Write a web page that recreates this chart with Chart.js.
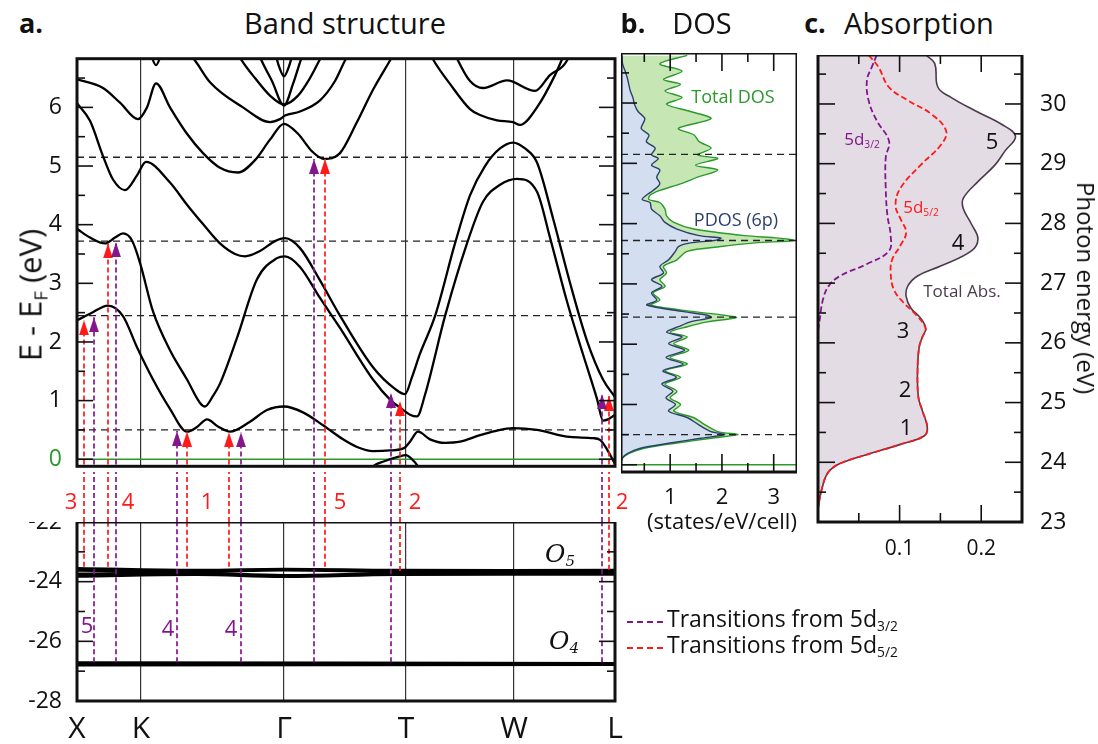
<!DOCTYPE html>
<html>
<head>
<meta charset="utf-8">
<script src="https://cdn.jsdelivr.net/npm/chart.js"></script>
<style>
body { margin: 0; background: #fff; width: 1098px; height: 744px; position: relative; overflow: hidden; font-family: 'Open Sans', sans-serif; color: #111; }
canvas { position: absolute; }
.t { position: absolute; transform: translate(-50%, -50%); white-space: nowrap; line-height: 1; }
.l { position: absolute; white-space: nowrap; line-height: 1; font-size: 23px; }
sub { font-size: 0.6em; vertical-align: -0.3em; line-height: 0; }
.o { font-family: 'DejaVu Serif', serif; font-style: italic; font-size: 25px; }
</style>
</head>
<body>
<canvas id="bandTop" width="630" height="419" style="left:0;top:53px"></canvas>
<canvas id="bandGap" width="630" height="50" style="left:0;top:472px"></canvas>
<canvas id="bandLow" width="630" height="221" style="left:0;top:522px"></canvas>
<canvas id="dos" width="176" height="451" style="left:621px;top:53px"></canvas>
<canvas id="abs" width="270" height="502" style="left:810px;top:55px"></canvas>

<div class="t" style="left:31px;top:22px;font-size:27px;font-weight:bold">a.</div>
<div class="t" style="left:345px;top:22px;font-size:29px">Band structure</div>
<div class="t" style="left:633px;top:22px;font-size:27px;font-weight:bold">b.</div>
<div class="t" style="left:702px;top:22px;font-size:29px">DOS</div>
<div class="t" style="left:815px;top:22px;font-size:27px;font-weight:bold">c.</div>
<div class="t" style="left:919px;top:22px;font-size:29px">Absorption</div>

<div class="t" style="left:30px;top:295px;font-size:31px;transform:translate(-50%,-50%) rotate(-90deg)">E - E<sub>F</sub> (eV)</div>
<div class="t" style="left:1086px;top:288px;font-size:24px;transform:translate(-50%,-50%) rotate(90deg)">Photon energy (eV)</div>
<div class="t" style="left:722px;top:520px;font-size:22px">(states/eV/cell)</div>

<div class="t" style="left:71px;top:500px;font-size:22px;color:#ff1a1a">3</div>
<div class="t" style="left:128px;top:500px;font-size:22px;color:#ff1a1a">4</div>
<div class="t" style="left:207px;top:500px;font-size:22px;color:#ff1a1a">1</div>
<div class="t" style="left:340px;top:500px;font-size:22px;color:#ff1a1a">5</div>
<div class="t" style="left:415px;top:500px;font-size:22px;color:#ff1a1a">2</div>
<div class="t" style="left:622px;top:500px;font-size:22px;color:#ff1a1a">2</div>
<div class="t" style="left:87px;top:624px;font-size:22px;color:#84168c">5</div>
<div class="t" style="left:168px;top:627px;font-size:22px;color:#84168c">4</div>
<div class="t" style="left:231px;top:627px;font-size:22px;color:#84168c">4</div>
<div class="t o" style="left:560px;top:553px">O<sub>5</sub></div>
<div class="t o" style="left:564px;top:640px">O<sub>4</sub></div>

<div class="t" style="left:733px;top:96px;font-size:18px;color:#2a9a2a">Total DOS</div>
<div class="t" style="left:736px;top:219px;font-size:18px;color:#2b3f6b">PDOS (6p)</div>

<div class="t" style="left:862px;top:138px;font-size:17px;color:#84168c">5d<sub>3/2</sub></div>
<div class="t" style="left:921px;top:206px;font-size:17px;color:#ff1a1a">5d<sub>5/2</sub></div>
<div class="t" style="left:962px;top:290px;font-size:17px;color:#4b3a4d">Total Abs.</div>
<div class="t" style="left:992px;top:140px;font-size:22px">5</div>
<div class="t" style="left:958px;top:241px;font-size:22px">4</div>
<div class="t" style="left:903px;top:329px;font-size:22px">3</div>
<div class="t" style="left:905px;top:388px;font-size:22px">2</div>
<div class="t" style="left:906px;top:426px;font-size:22px">1</div>

<div style="position:absolute;left:627px;top:621px;width:36px;border-top:2px dashed #84168c"></div>
<div class="l" style="left:667px;top:607px">Transitions from 5d<sub>3/2</sub></div>
<div style="position:absolute;left:627px;top:647px;width:36px;border-top:2px dashed #ff1a1a"></div>
<div class="l" style="left:667px;top:633px">Transitions from 5d<sub>5/2</sub></div>

<script>
Chart.defaults.font.family = "'Open Sans', sans-serif";
Chart.defaults.color = '#111';

// k-path positions (X, K, Gamma, T, W, L)
const kPoints = [0, 0.64, 2.07, 3.29, 4.37, 5.38];
const kNames = ['X', 'K', 'Γ', 'T', 'W', 'L'];

// conduction bands, [k, E (eV)]
const band0 = [[0,2.37],[0.13,2.48],[0.31,2.62],[0.46,2.44],[0.60,1.91],[0.76,1.36],[0.93,0.86],[1.10,0.47],[1.20,0.55],[1.30,0.68],[1.41,0.56],[1.53,0.47],[1.73,0.64],[1.90,0.84],[2.07,0.90],[2.26,0.80],[2.46,0.58],[2.66,0.34],[2.80,0.21],[2.96,0.14],[3.13,0.15],[3.27,0.19],[3.33,0.30],[3.41,0.47],[3.53,0.34],[3.68,0.28],[3.83,0.30],[4.03,0.41],[4.18,0.48],[4.36,0.53],[4.60,0.50],[4.93,0.38],[5.16,0.36],[5.23,0.33],[5.30,0.17],[5.38,-0.08]];
const band1 = [[0,3.93],[0.13,3.78],[0.28,3.68],[0.38,3.78],[0.46,3.85],[0.55,3.73],[0.63,3.35],[0.76,2.52],[0.93,1.86],[1.10,1.36],[1.23,0.96],[1.28,0.90],[1.36,1.08],[1.43,1.29],[1.60,2.07],[1.80,3.07],[2.00,3.43],[2.08,3.46],[2.23,3.28],[2.43,2.75],[2.63,2.24],[2.96,1.36],[3.14,1.00],[3.23,0.88],[3.33,0.76],[3.40,0.73],[3.48,1.10],[3.68,2.44],[3.90,3.68],[4.06,4.39],[4.23,4.68],[4.40,4.78],[4.60,4.56],[4.73,3.78],[4.90,2.69],[5.06,1.79],[5.20,1.03],[5.26,0.66],[5.31,0.68],[5.38,0.76]];
const band2 = [[0,6.07],[0.13,5.77],[0.26,5.17],[0.36,4.77],[0.48,4.59],[0.60,4.84],[0.69,5.07],[0.93,4.72],[1.10,4.34],[1.26,4.01],[1.43,3.68],[1.58,3.50],[1.68,3.46],[1.83,3.55],[1.98,3.72],[2.08,3.77],[2.23,3.60],[2.43,3.05],[2.63,2.45],[2.96,1.57],[3.18,1.20],[3.28,1.11],[3.35,1.40],[3.43,1.80],[3.58,2.44],[3.78,3.68],[3.93,4.50],[4.08,5.00],[4.23,5.30],[4.36,5.40],[4.48,5.30],[4.60,5.06],[4.76,4.11],[4.93,3.01],[5.10,2.02],[5.26,1.36],[5.38,1.06]];
const band3 = [[0,6.48],[0.26,6.33],[0.43,6.08],[0.61,5.80],[0.70,6.00],[0.79,6.41],[0.93,6.00],[1.10,5.55],[1.26,5.22],[1.43,4.97],[1.61,4.89],[1.78,5.10],[1.93,5.45],[2.07,5.72],[2.21,5.55],[2.35,5.25],[2.47,5.12],[2.63,5.22],[2.80,5.75],[2.96,6.30],[3.13,6.80],[3.23,7.10]];
const band4 = [[1.08,7.0],[1.18,6.8],[1.33,6.43],[1.66,6.0],[1.93,5.75],[2.03,5.80],[2.08,5.86],[2.23,5.93],[2.43,6.12],[2.58,6.45],[2.68,6.8],[2.75,7.0]];
const band5 = [[1.58,7.0],[1.64,6.82],[1.78,6.5],[1.93,6.2],[2.07,6.05],[2.21,6.2],[2.33,6.5],[2.43,6.82],[2.49,7.0]];
const band6 = [[1.80,7.0],[1.84,6.82],[1.95,6.45],[2.07,6.03],[2.16,6.4],[2.24,6.82],[2.28,7.0]];
const band7 = [[1.97,7.0],[2.02,6.7],[2.07,6.53],[2.12,6.7],[2.17,7.0]];
const band8 = [[0.72,7.0],[0.79,6.72],[0.86,7.0]];
const band9 = [[3.51,7.0],[3.56,6.82],[3.73,6.4],[3.93,5.97],[4.03,5.87],[4.20,5.78],[4.36,5.75],[4.43,5.70],[4.60,6.0],[4.78,6.55],[4.85,6.82],[4.89,7.0]];
const band10 = [[3.76,7.0],[3.81,6.8],[3.93,6.45],[4.06,6.33],[4.30,6.46],[4.58,6.28],[4.73,6.55],[4.90,6.8],[4.94,7.0]];
const bandPocket = [[2.88,-0.3],[2.96,-0.12],[3.08,-0.03],[3.21,0.04],[3.29,0.07],[3.35,0.0],[3.41,-0.12],[3.45,-0.25]];

// O semicore bands
const o5a = [[0,-23.56],[1.2,-23.62],[2.07,-23.58],[3.2,-23.62],[5.38,-23.62]];
const o5b = [[0,-23.62],[1.2,-23.66],[2.07,-23.61],[3.2,-23.66],[5.38,-23.66]];
const o5c = [[0,-23.74],[1.2,-23.71],[2.07,-23.79],[3.2,-23.72],[5.38,-23.71]];
const o5d = [[0,-23.82],[1.2,-23.76],[2.07,-23.83],[3.2,-23.76],[5.38,-23.75]];
const o4a = [[0,-26.72],[5.38,-26.74]];
const o4b = [[0,-26.79],[5.38,-26.78]];

// transitions
const redK = [0.07, 0.31, 1.10, 1.52, 2.48, 3.23, 5.32];
const redTip = [2.37, 3.68, 0.47, 0.46, 5.12, 0.99, 1.08];
const redBase = [-23.5, -23.5, -23.5, -23.5, -23.5, -23.64, -23.6];
const purK = [0.17, 0.39, 1.00, 1.64, 2.37, 3.14, 5.25];
const purTip = [2.42, 3.70, 0.48, 0.46, 5.12, 1.13, 1.11];
const purBase = [-26.7, -26.7, -26.7, -26.7, -26.7, -26.7, -26.7];

const dashLevels = [5.15, 3.72, 2.45, 0.5];

// DOS
const dosE = [6.79,6.65,6.53,6.39,6.31,6.20,6.09,5.98,5.86,5.74,5.58,5.47,5.36,5.25,5.14,5.08,4.97,4.89,4.77,4.66,4.55,4.47,4.40,4.35,4.24,4.13,4.02,3.91,3.80,3.76,3.72,3.68,3.62,3.54,3.40,3.29,3.18,3.07,2.96,2.85,2.73,2.65,2.54,2.48,2.44,2.37,2.29,2.20,2.12,2.01,1.90,1.78,1.67,1.56,1.45,1.34,1.22,1.11,1.00,0.89,0.78,0.67,0.55,0.50,0.44,0.36,0.27,0.19,0.11,0.00,-0.17];
const dosTotal = [1.33,0.80,1.23,0.87,1.20,0.90,1.23,0.93,1.39,1.79,1.16,1.46,1.56,1.79,1.53,1.92,1.49,1.92,1.53,1.20,0.80,0.61,0.59,0.80,0.90,0.93,1.07,1.46,2.44,3.10,3.39,2.64,1.98,1.33,1.13,0.87,0.93,0.80,0.90,0.67,0.80,0.61,1.46,2.05,2.28,1.72,1.33,1.00,1.33,1.07,1.36,1.00,1.33,0.90,1.20,0.90,1.13,1.00,1.20,1.07,1.46,1.66,1.92,2.31,1.79,1.13,0.48,0.21,0.08,0.055,0.05];
const dosP = [0.07,0.08,0.13,0.18,0.20,0.23,0.28,0.31,0.38,0.51,0.44,0.59,0.54,0.71,0.64,0.77,0.64,0.80,0.74,0.80,0.67,0.54,0.46,0.61,0.64,0.80,0.90,1.13,1.56,1.98,1.85,1.39,1.16,1.10,0.97,0.80,0.87,0.64,0.84,0.64,0.74,0.55,1.26,1.72,1.79,1.39,1.16,0.93,1.23,0.97,1.28,0.92,1.25,0.86,1.12,0.84,1.05,0.92,1.10,0.97,1.34,1.54,1.79,2.05,1.59,1.00,0.41,0.18,0.07,0.05,0.05];

// absorption
const absE = [30.82,30.68,30.28,30.11,29.89,29.66,29.46,29.21,28.98,28.70,28.42,28.25,27.99,27.74,27.54,27.29,27.12,26.95,26.78,26.58,26.41,26.24,26.10,25.93,25.54,25.09,24.86,24.58,24.44,24.30,24.13,23.98,23.84,23.62,23.22,23.00];
const absTotal = [0.132,0.143,0.147,0.163,0.192,0.225,0.242,0.229,0.217,0.196,0.178,0.178,0.188,0.196,0.188,0.151,0.122,0.110,0.108,0.114,0.126,0.132,0.128,0.124,0.122,0.123,0.128,0.134,0.130,0.101,0.060,0.027,0.013,0.006,0.000,0.000];
const d32E = [30.82,30.62,30.40,30.06,29.72,29.38,29.10,28.59,28.14,27.80,27.54,27.32,27.12,26.95,26.72,26.38,26.20];
const d32 = [0.072,0.066,0.060,0.062,0.072,0.087,0.083,0.083,0.085,0.089,0.087,0.060,0.027,0.013,0.006,0.002,0.000];
const d52E = [30.82,30.62,30.28,30.06,29.83,29.55,29.32,28.98,28.59,28.30,28.08,27.85,27.63,27.40,27.18,26.89,26.67,26.47,26.24,26.10,25.93,25.54,25.09,24.86,24.58,24.44,24.30,24.13,23.98,23.84,23.62,23.22,23.00];
const d52 = [0.062,0.074,0.087,0.110,0.139,0.157,0.151,0.126,0.101,0.095,0.101,0.108,0.101,0.091,0.089,0.093,0.105,0.120,0.132,0.128,0.124,0.122,0.123,0.128,0.134,0.130,0.101,0.060,0.027,0.013,0.006,0.000,0.000];

const RED = '#ff1a1a', PURPLE = '#84168c', GREEN = '#2a9a2a';

// frame + inward tick marks
const frameTicks = {
  id: 'frameTicks',
  afterDraw(chart, args, o) {
    const {ctx, chartArea: a, scales} = chart;
    ctx.save();
    ctx.strokeStyle = '#111';
    ctx.lineWidth = 1.6;
    (o.marks || []).forEach(m => {
      const s = scales[m.scale];
      for (let i = 0; ; i++) {
        const v = m.from + i * m.step;
        if (v > m.to + 1e-9) break;
        const p = s.getPixelForValue(v);
        const r = v / m.major;
        const len = Math.abs(r - Math.round(r)) < 1e-6 ? m.long : m.short;
        ctx.beginPath();
        if (m.side === 'left') { ctx.moveTo(a.left, p); ctx.lineTo(a.left + len, p); }
        else if (m.side === 'right') { ctx.moveTo(a.right, p); ctx.lineTo(a.right - len, p); }
        else if (m.side === 'top') { ctx.moveTo(p, a.top); ctx.lineTo(p, a.top + len); }
        else { ctx.moveTo(p, a.bottom); ctx.lineTo(p, a.bottom - len); }
        ctx.stroke();
      }
    });
    if (o.frame !== false) {
      ctx.lineWidth = 3;
      ctx.strokeRect(a.left, a.top, a.right - a.left, a.bottom - a.top);
    }
    ctx.restore();
  }
};

function arrowHead(color) {
  const c = document.createElement('canvas');
  c.width = 10; c.height = 30;
  const g = c.getContext('2d');
  g.fillStyle = color;
  g.beginPath();
  g.moveTo(5, 15); g.lineTo(10, 30); g.lineTo(0, 30); g.closePath();
  g.fill();
  return c;
}
const redHead = arrowHead(RED), purHead = arrowHead(PURPLE);

// fixed axis size, no extra label padding
const fit = (w, h) => s => {
  if (w != null) s.width = w;
  if (h != null) s.height = h;
  s.paddingTop = 0; s.paddingBottom = 0; s.paddingLeft = 0; s.paddingRight = 0;
};

const pts = arr => arr.map(p => ({x: p[0], y: p[1]}));
const bandSet = (arr, w) => ({data: pts(arr), showLine: true, borderColor: '#000', borderWidth: w || 2.3, pointRadius: 0, cubicInterpolationMode: 'monotone'});
const vLine = (k, y0, y1, color, head) => ({
  data: [{x: k, y: y0}, {x: k, y: y1}], showLine: true, borderColor: color, borderWidth: 1.7,
  borderDash: [5, 3], pointRadius: head ? [0, 4] : 0, pointStyle: head || 'circle'
});
const hLine = (e, x0, x1, color, dash, w) => ({
  data: [{x: x0, y: e}, {x: x1, y: e}], showLine: true, borderColor: color, borderWidth: w || 1.3,
  borderDash: dash, pointRadius: 0
});
const base = {animation: false, responsive: false, maintainAspectRatio: false, events: []};
const noLegend = {legend: {display: false}, tooltip: {enabled: false}};
const kMax = kPoints[kPoints.length - 1];

// upper band panel
new Chart(document.getElementById('bandTop'), {
  type: 'scatter',
  data: {
    datasets: [
      ...purK.map((k, i) => vLine(k, -0.5, purTip[i], PURPLE, purHead)),
      ...redK.map((k, i) => vLine(k, -0.5, redTip[i], RED, redHead)),
      ...[band0, band1, band2, band3, band4, band5, band6, band7, band8, band9, band10, bandPocket].map(b => bandSet(b)),
      ...dashLevels.map(e => hLine(e, 0, kMax, '#222', [7, 5])),
      hLine(0, 0, kMax, GREEN, [], 1.5)
    ]
  },
  options: {
    ...base,
    layout: {padding: {left: 0, right: 15, top: 0, bottom: 0}},
    plugins: {...noLegend, frameTicks: {marks: [
      {scale: 'y', side: 'left', from: 0, to: 6.5, step: 0.5, major: 1, long: 16, short: 8},
      {scale: 'y', side: 'right', from: 0, to: 6.5, step: 0.5, major: 1, long: 16, short: 8}
    ]}},
    scales: {
      x: {type: 'linear', min: 0, max: kMax,
        afterBuildTicks: s => { s.ticks = kPoints.map(v => ({value: v})); },
        afterFit: fit(null, 0),
        ticks: {display: false}, grid: {color: '#333', lineWidth: 1.2, drawTicks: false}, border: {display: false}},
      y: {type: 'linear', min: -0.12, max: 6.83,
        afterBuildTicks: s => { s.ticks = [0, 1, 2, 3, 4, 5, 6].map(v => ({value: v})); },
        afterFit: fit(77, null),
        ticks: {font: {size: 23}, padding: 7, color: c => c.tick.value === 0 ? GREEN : '#111'},
        grid: {display: false}, border: {display: false}}
    }
  },
  plugins: [frameTicks]
});

// gap between panels: dashed transition lines continue
new Chart(document.getElementById('bandGap'), {
  type: 'scatter',
  data: {
    datasets: [
      ...purK.map(k => vLine(k, 0, 1, PURPLE)),
      ...redK.map(k => vLine(k, 0, 1, RED))
    ]
  },
  options: {
    ...base,
    layout: {padding: {left: 77, right: 15, top: 0, bottom: 0}},
    plugins: noLegend,
    scales: {
      x: {type: 'linear', min: 0, max: kMax, display: false},
      y: {type: 'linear', min: 0, max: 1, display: false}
    }
  }
});

// lower band panel (O semicore)
new Chart(document.getElementById('bandLow'), {
  type: 'scatter',
  data: {
    datasets: [
      ...purK.map((k, i) => vLine(k, purBase[i], -21, PURPLE)),
      ...redK.map((k, i) => vLine(k, redBase[i], -21, RED)),
      ...[o5a, o5b, o5c, o5d, o4a, o4b].map(b => ({...bandSet(b, 3), cubicInterpolationMode: 'default', tension: 0.4}))
    ]
  },
  options: {
    ...base,
    layout: {padding: {left: 0, right: 15, top: 0, bottom: 0}},
    plugins: {...noLegend, frameTicks: {marks: [
      {scale: 'y', side: 'left', from: -27, to: -23, step: 1, major: 2, long: 16, short: 8},
      {scale: 'y', side: 'right', from: -27, to: -23, step: 1, major: 2, long: 16, short: 8}
    ]}},
    scales: {
      x: {type: 'linear', min: 0, max: kMax,
        afterBuildTicks: s => { s.ticks = kPoints.map(v => ({value: v})); },
        afterFit: fit(null, 42),
        ticks: {font: {size: 30}, padding: 10, maxRotation: 0, autoSkip: false,
          callback: (v, i) => kNames[i]},
        grid: {color: '#333', lineWidth: 1.2, drawTicks: false}, border: {display: false}},
      y: {type: 'linear', min: -28, max: -22,
        afterBuildTicks: s => { s.ticks = [-28, -26, -24, -22].map(v => ({value: v})); },
        afterFit: fit(77, null),
        ticks: {font: {size: 23}, padding: 7},
        grid: {display: false}, border: {display: false}}
    }
  },
  plugins: [frameTicks]
});

// DOS panel
const xy = (xs, ys) => xs.map((v, i) => ({x: v, y: ys[i]}));
new Chart(document.getElementById('dos'), {
  type: 'line',
  data: {
    datasets: [
      ...dashLevels.map(e => hLine(e, 0.05, 3.45, '#222', [7, 5])),
      hLine(0, 0.05, 3.45, GREEN, [], 1.5),
      {data: xy(dosP, dosE), borderColor: '#2b3f6b', borderWidth: 1.4, backgroundColor: '#d3def1',
        fill: {value: 0}, pointRadius: 0, tension: 0.3},
      {data: xy(dosTotal, dosE), borderColor: GREEN, borderWidth: 1.4, backgroundColor: '#c6e6b4',
        fill: {value: 0}, pointRadius: 0, tension: 0.3}
    ]
  },
  options: {
    ...base,
    indexAxis: 'y',
    layout: {padding: 0},
    plugins: {...noLegend, frameTicks: {marks: [
      {scale: 'y', side: 'left', from: 0, to: 6.5, step: 0.5, major: 1, long: 16, short: 8},
      {scale: 'x', side: 'top', from: 0.5, to: 3, step: 0.5, major: 1, long: 18, short: 9},
      {scale: 'x', side: 'bottom', from: 0.5, to: 3, step: 0.5, major: 1, long: 18, short: 9}
    ]}},
    scales: {
      x: {type: 'linear', min: 0.05, max: 3.45,
        afterBuildTicks: s => { s.ticks = [1, 2, 3].map(v => ({value: v})); },
        afterFit: fit(null, 32),
        ticks: {font: {size: 22}, padding: 5, maxRotation: 0},
        grid: {display: false}, border: {display: false}},
      y: {type: 'linear', min: -0.12, max: 6.83, display: false}
    }
  },
  plugins: [frameTicks]
});

// absorption panel
new Chart(document.getElementById('abs'), {
  type: 'line',
  data: {
    datasets: [
      {data: xy(d52, d52E), borderColor: RED, borderWidth: 1.8, borderDash: [6, 3], pointRadius: 0, fill: false, tension: 0.4},
      {data: xy(d32, d32E), borderColor: PURPLE, borderWidth: 1.8, borderDash: [6, 3], pointRadius: 0, fill: false, tension: 0.4},
      {data: xy(absTotal, absE), borderColor: '#4b3a4d', borderWidth: 1.6, backgroundColor: '#e4dce5',
        fill: {value: 0}, pointRadius: 0, tension: 0.4}
    ]
  },
  options: {
    ...base,
    indexAxis: 'y',
    layout: {padding: {left: 8, right: 0, top: 0, bottom: 0}},
    plugins: {...noLegend, frameTicks: {marks: [
      {scale: 'y', side: 'left', from: 23.5, to: 30.5, step: 0.5, major: 1, long: 17, short: 8},
      {scale: 'y', side: 'right', from: 23.5, to: 30.5, step: 0.5, major: 1, long: 17, short: 8},
      {scale: 'x', side: 'top', from: 0.05, to: 0.2, step: 0.05, major: 0.1, long: 17, short: 9},
      {scale: 'x', side: 'bottom', from: 0.05, to: 0.2, step: 0.05, major: 0.1, long: 17, short: 9}
    ]}},
    scales: {
      x: {type: 'linear', min: 0, max: 0.25,
        afterBuildTicks: s => { s.ticks = [0.1, 0.2].map(v => ({value: v})); },
        afterFit: fit(null, 35),
        ticks: {font: {size: 21}, padding: 6, maxRotation: 0, callback: v => v.toFixed(1)},
        grid: {display: false}, border: {display: false}},
      y: {type: 'linear', position: 'right', min: 23, max: 30.82,
        afterBuildTicks: s => { s.ticks = [23, 24, 25, 26, 27, 28, 29, 30].map(v => ({value: v})); },
        afterFit: fit(58, null),
        ticks: {font: {size: 23}, padding: 10},
        grid: {display: false}, border: {display: false}}
    }
  },
  plugins: [frameTicks]
});
</script>
</body>
</html>
